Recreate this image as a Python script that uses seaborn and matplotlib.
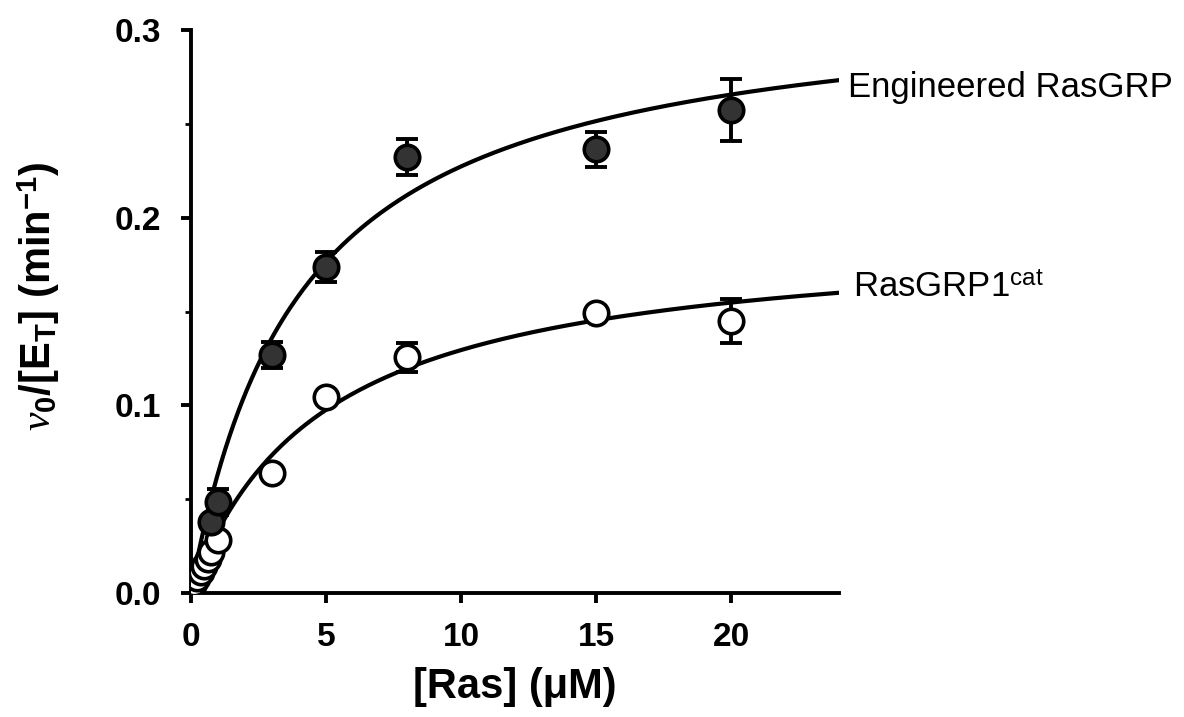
import numpy as np
import pandas as pd
import seaborn as sns
import matplotlib.pyplot as plt
from matplotlib.ticker import MultipleLocator

sns.set_theme(style="ticks")
plt.rcParams['font.family'] = ['Liberation Sans', 'DejaVu Sans']
plt.rcParams['mathtext.fontset'] = 'custom'
plt.rcParams['mathtext.rm'] = 'Liberation Sans'
plt.rcParams['mathtext.bf'] = 'Liberation Sans:bold'
plt.rcParams['mathtext.it'] = 'Liberation Serif:italic'
plt.rcParams['text.color'] = 'black'
plt.rcParams['axes.labelcolor'] = 'black'
plt.rcParams['xtick.color'] = 'black'
plt.rcParams['ytick.color'] = 'black'

# Engineered RasGRP (filled)
eng_x = [0.75, 1, 3, 5, 8, 15, 20]
eng_y = [0.038, 0.0485, 0.127, 0.1737, 0.2323, 0.2365, 0.2573]
eng_err = [0, 0.007, 0.007, 0.008, 0.0095, 0.0094, 0.0165]
eng_vmax, eng_km = 0.3196, 4.06

# RasGRP1cat (open)
cat_x = [0.125, 0.25, 0.375, 0.5, 0.625, 0.75, 1, 3, 5, 8, 15, 20]
cat_y = [0.0055, 0.008, 0.011, 0.0145, 0.018, 0.022, 0.028, 0.0641, 0.1046, 0.1256, 0.149, 0.1449]
cat_err = [0, 0, 0, 0, 0, 0, 0, 0, 0, 0.0078, 0, 0.0117]
cat_vmax, cat_km = 0.1925, 4.87

fig, ax = plt.subplots(figsize=(11.84, 7.17), dpi=100)
fig.subplots_adjust(left=0.161, right=0.709, bottom=0.173, top=0.958)

# Michaelis-Menten fit curves
xs = np.linspace(0, 24, 300)
fits = pd.concat([
    pd.DataFrame({"x": xs, "y": eng_vmax * xs / (eng_km + xs), "s": "eng"}),
    pd.DataFrame({"x": xs, "y": cat_vmax * xs / (cat_km + xs), "s": "cat"}),
])
sns.lineplot(data=fits, x="x", y="y", units="s", estimator=None, color="black",
             lw=3.0, ax=ax, zorder=2)

ax.errorbar(cat_x, cat_y, yerr=cat_err, fmt="none", ecolor="black", elinewidth=2.8,
            capsize=8, capthick=2.8, zorder=3)
ax.errorbar(eng_x, eng_y, yerr=eng_err, fmt="none", ecolor="black", elinewidth=2.8,
            capsize=8, capthick=2.8, zorder=3)

sns.scatterplot(x=cat_x, y=cat_y, s=310, color="white", edgecolor="black",
                linewidth=2.6, ax=ax, zorder=4)
sns.scatterplot(x=eng_x, y=eng_y, s=310, color="#333333", edgecolor="black",
                linewidth=2.6, ax=ax, zorder=5)

ax.set_xlim(0, 24)
ax.set_ylim(0, 0.3)
ax.set_xticks([0, 5, 10, 15, 20])
ax.yaxis.set_major_locator(MultipleLocator(0.1))
ax.yaxis.set_minor_locator(MultipleLocator(0.05))
ax.yaxis.set_major_formatter(plt.FormatStrFormatter('%.1f'))
sns.despine(ax=ax)
for sp in ["left", "bottom"]:
    ax.spines[sp].set_linewidth(2.8)
    ax.spines[sp].set_color("black")
ax.tick_params(which="major", length=7, width=2.8, labelsize=24, pad=14)
ax.tick_params(axis="y", which="minor", length=4, width=2.0)
for lab in ax.get_xticklabels() + ax.get_yticklabels():
    lab.set_fontweight("bold")

ax.set_xlabel("[Ras] (μM)", fontsize=30, fontweight="bold", labelpad=10)
ax.set_ylabel(r"$\nu_\mathbf{0}$/[E$_\mathbf{T}$] (min$^\mathbf{-1}$)", fontsize=30,
              fontweight="bold")
ax.yaxis.set_label_coords(-0.199, 0.527)

ax.text(24.3, 0.2643, "Engineered RasGRP", fontsize=25, va="baseline", ha="left", clip_on=False)
ax.text(24.5, 0.1577, r"RasGRP1$^{\mathrm{cat}}$", fontsize=25, va="baseline", ha="left", clip_on=False)

fig.savefig("out.png", dpi=100)
